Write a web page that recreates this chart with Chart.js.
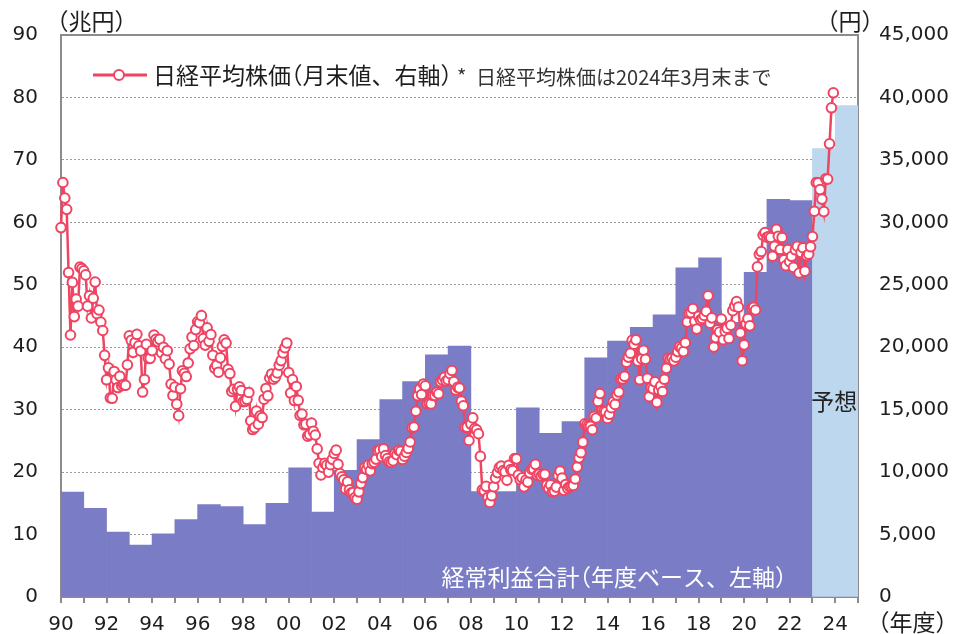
<!DOCTYPE html>
<html>
<head>
<meta charset="utf-8">
<script src="https://cdn.jsdelivr.net/npm/chart.js@4.4.0/dist/chart.umd.min.js"></script>
<style>
  html, body { margin: 0; padding: 0; background: #fff; }
  #wrap { width: 953px; height: 634px; position: relative; }
</style>
</head>
<body>
<div id="wrap"><canvas id="chart" width="953" height="634"></canvas></div>
<script>
// 年度（x軸）
const fiscalYears = [1990, 1991, 1992, 1993, 1994, 1995, 1996, 1997, 1998, 1999,
                     2000, 2001, 2002, 2003, 2004, 2005, 2006, 2007, 2008, 2009,
                     2010, 2011, 2012, 2013, 2014, 2015, 2016, 2017, 2018, 2019,
                     2020, 2021, 2022, 2023, 2024];
// 経常利益合計（兆円、年度ベース）
const profitTrillion = [16.8, 14.2, 10.4, 8.3, 10.1, 12.4, 14.8, 14.5, 11.6, 15.0,
                        20.7, 13.6, 20.3, 25.2, 31.6, 34.5, 38.8, 40.2, 16.9, 16.9,
                        30.3, 26.2, 28.1, 38.3, 41.0, 43.2, 45.2, 52.7, 54.3, 44.0,
                        52.0, 63.7, 63.5, 71.8, 78.7];
const forecastYears = [2023, 2024];

// 日経平均株価（月末値、円）1990年4月から
const nikkeiStartYear = 1990;
const nikkei1990s = [
  29580, 33190, 31940, 31040, 25980, 20980, 25190, 22450, 23850, 23290, 26410, 26290,
  26110, 25790, 23290, 24120, 22340, 23920, 25220, 22690, 22980, 22020, 21340, 19350,
  17390, 18350, 15950, 15910, 18060, 17400, 16770, 17680, 16920, 17020, 16950, 18590,
  20920, 20550, 19590, 20380, 21030, 20110, 19700, 16410, 17420, 20230, 19110, 19110,
  19730, 20970, 20640, 20450, 20630, 19560, 19990, 19080, 19720, 18650, 17050, 16140,
  16810, 15440, 14520, 16680, 18120, 17910, 17650, 18740, 19870, 20810, 20130, 21410,
  22040, 21960, 22530, 20690, 20170, 21560, 20470, 21020, 19360, 18330, 18560, 18000,
  19150, 20070, 20600, 20330, 18230, 17890, 16460, 16640, 15260, 16630, 16830, 16530,
  15640, 15670, 15830, 16380, 14110, 13410, 13560, 14880, 13840, 14500, 14370, 15840,
  16700, 16110, 17530, 17860, 17440, 17600, 17940, 18560, 18930, 19540, 19960, 20340
];
const nikkei2000s = [
  17970, 16330, 17410, 15730, 16860, 15750, 14540, 14650, 13790, 13840, 12880, 13000,
  13930, 13260, 12970, 11860, 10710, 9770, 10370, 10700, 10540, 10000, 10590, 11020,
  11490, 11760, 10620, 9880, 9620, 9380, 8640, 9220, 8580, 8340, 8360, 7970,
  7830, 8420, 9080, 9560, 10340, 10220, 10560, 10100, 10680, 10780, 11040, 11720,
  11760, 11240, 11860, 11330, 11080, 10820, 10770, 10900, 11490, 11390, 11740, 11670,
  11010, 11280, 11580, 11900, 12410, 13570, 13610, 14870, 16110, 16650, 16210, 17060,
  16910, 15470, 15510, 15460, 16140, 16130, 16400, 16270, 17230, 17380, 17600, 17290,
  17400, 17880, 18140, 17250, 16570, 16790, 16740, 15680, 15310, 13590, 13600, 12530,
  13850, 14340, 13480, 13380, 13070, 11260, 8580, 8510, 8860, 7990, 7570, 8110,
  8830, 9520, 9960, 10360, 10490, 10130, 10030, 9350, 10550, 10200, 10130, 11090
];
const nikkei2010s = [
  11060, 9770, 9380, 9540, 8820, 9370, 9200, 9940, 10230, 10240, 10620, 9760,
  9850, 9690, 9820, 9830, 8960, 8700, 8990, 8430, 8460, 8800, 9720, 10080,
  9520, 8540, 9010, 8700, 8840, 8870, 8930, 9450, 10400, 11140, 11560, 12400,
  13860, 13770, 13680, 13670, 13390, 14460, 14330, 15660, 16290, 14910, 14840, 14830,
  14300, 14630, 15160, 15620, 15420, 16170, 16410, 17460, 17450, 17670, 18800, 19210,
  19520, 20560, 20240, 20590, 18890, 17390, 19080, 19750, 19030, 17520, 16030, 16760,
  16670, 17230, 15580, 16570, 16890, 16450, 17430, 18310, 19110, 19040, 19120, 18910,
  19200, 19650, 20030, 19930, 19650, 20360, 22010, 22720, 22760, 23100, 22070, 21450,
  22470, 22200, 22300, 22550, 22870, 24120, 21920, 22350, 20010, 20770, 21390, 21210,
  22260, 20600, 21280, 21520, 20700, 21760, 22930, 23290, 23660, 23210, 21140, 18920
];
const nikkei2020s = [
  20190, 21880, 22290, 21710, 23140, 23190, 22980, 26430, 27440, 27660, 28970, 29180,
  28810, 28860, 28790, 27280, 28090, 29450, 28890, 27820, 28790, 27000, 26530, 27820,
  26850, 27280, 26390, 27800, 28090, 25940, 27590, 27970, 26090, 27330, 27450, 28040,
  28860, 30890, 33190, 33170, 32620, 31860, 30860, 33490, 33460, 36290, 39170, 40370
];

const leftMax = 90, leftStep = 10;
const rightMax = 45000, rightStep = 5000;

const BAR = '#7A7DC6';
const BAR_FC = '#BDD7EE';
const LINE = '#EF4462';
const AXIS = '#8c8c8c';
const TEXT = '#1e1e1e';
const NUM_FONT = { family: 'DejaVu Sans', size: 20 };
const JP = '"Noto Sans CJK JP", "Noto Sans", sans-serif';

const nikkeiAll = [].concat(nikkei1990s, nikkei2000s, nikkei2010s, nikkei2020s);
const nikkeiPoints = nikkeiAll.map((v, i) => ({ x: nikkeiStartYear + i / 12, y: v }));
const barPoints = fiscalYears.map((y, i) => ({ x: y + 0.5, y: profitTrillion[i] }));
const barColors = fiscalYears.map(y => forecastYears.includes(y) ? BAR_FC : BAR);

// 全角カッコを詰めて描く
function drawJP(ctx, text, x, y, align) {
  const parts = [...text].map(ch => {
    let w = ctx.measureText(ch).width, dx = 0;
    if (ch === '（') { dx = -w / 2; w = w / 2; }
    else if (ch === '）') { w = w / 2; }
    return { ch, w, dx };
  });
  const total = parts.reduce((s, p) => s + p.w, 0);
  let cx = align === 'right' ? x - total : align === 'center' ? x - total / 2 : x;
  ctx.textAlign = 'left';
  parts.forEach(p => { ctx.fillText(p.ch, cx + p.dx, y); cx += p.w; });
}

const decor = {
  id: 'decor',
  beforeDatasetsDraw(chart) {
    const { ctx, chartArea: a } = chart;
    ctx.save();
    ctx.strokeStyle = AXIS;
    ctx.lineWidth = 2;
    ctx.beginPath();
    ctx.moveTo(a.left - 1, a.top);
    ctx.lineTo(a.right + 1, a.top);
    ctx.stroke();
    ctx.restore();
  },
  afterDraw(chart) {
    const { ctx, chartArea: a, scales } = chart;
    const x = scales.x;
    ctx.save();
    ctx.textBaseline = 'middle';

    // 凡例
    const ly = a.top + 40;
    ctx.strokeStyle = LINE;
    ctx.lineWidth = 3;
    ctx.beginPath();
    ctx.moveTo(a.left + 32, ly);
    ctx.lineTo(a.left + 86, ly);
    ctx.stroke();
    ctx.beginPath();
    ctx.arc(a.left + 58, ly, 5, 0, Math.PI * 2);
    ctx.fillStyle = '#fff';
    ctx.fill();
    ctx.lineWidth = 2;
    ctx.stroke();

    ctx.fillStyle = TEXT;
    ctx.font = '23px ' + JP;
    drawJP(ctx, '日経平均株価（月末値、右軸）', a.left + 92, ly, 'left');
    ctx.font = '20px ' + JP;
    ctx.fillStyle = '#333';
    ctx.fillText('*', a.left + 396, ly + 1);
    drawJP(ctx, '日経平均株価は2024年3月末まで', a.left + 415, ly + 2, 'left');

    // 棒の中の文字
    ctx.font = '23px ' + JP;
    ctx.fillStyle = '#fff';
    drawJP(ctx, '経常利益合計（年度ベース、左軸）', x.getPixelForValue(2023) - 26, 577, 'right');
    ctx.fillStyle = '#222';
    drawJP(ctx, '予想', x.getPixelForValue(2024) - 1, 401, 'center');

    // 単位
    ctx.font = '23px ' + JP;
    ctx.fillStyle = TEXT;
    drawJP(ctx, '（兆円）', 57, 21, 'left');
    drawJP(ctx, '（円）', 827, 21, 'left');
    drawJP(ctx, '（年度）', 878, 622, 'left');
    ctx.restore();
  }
};

new Chart(document.getElementById('chart'), {
  type: 'bar',
  data: {
    datasets: [
      {
        type: 'line',
        label: '日経平均株価（月末値、右軸）',
        data: nikkeiPoints,
        yAxisID: 'y2',
        borderColor: LINE,
        borderWidth: 2.5,
        pointRadius: 4.8,
        pointBorderWidth: 2,
        pointBackgroundColor: '#fff',
        pointBorderColor: LINE,
        tension: 0,
        clip: false,
        order: 0
      },
      {
        type: 'bar',
        label: '経常利益合計（年度ベース、左軸）',
        data: barPoints,
        yAxisID: 'y',
        backgroundColor: barColors,
        borderWidth: 0,
        barPercentage: 1,
        categoryPercentage: 1,
        order: 1
      }
    ]
  },
  options: {
    responsive: false,
    animation: false,
    layout: { padding: { top: 33, left: 0, right: 0, bottom: 0 } },
    plugins: { legend: { display: false }, tooltip: { enabled: false } },
    scales: {
      x: {
        type: 'linear',
        min: 1990,
        max: 2025,
        offset: false,
        grid: { offset: false, drawOnChartArea: false, drawTicks: true, tickLength: 6, color: AXIS, lineWidth: 2 },
        border: { display: true, color: AXIS, width: 2 },
        ticks: {
          stepSize: 1,
          autoSkip: false,
          maxRotation: 0,
          padding: 10,
          color: TEXT,
          font: NUM_FONT,
          callback: v => (v % 2 === 0 && v < 2025) ? String(v % 100).padStart(2, '0') : ''
        },
        afterFit: s => { s.height = 37; }
      },
      y: {
        position: 'left',
        min: 0,
        max: leftMax,
        grid: {
          drawTicks: false,
          color: c => (c.tick.value === 0 || c.tick.value === leftMax) ? 'rgba(0,0,0,0)' : '#9a9a9a',
          lineWidth: 1
        },
        border: { display: true, color: AXIS, width: 2, dash: [2, 2] },
        ticks: { stepSize: leftStep, padding: 23, color: TEXT, font: NUM_FONT },
        afterFit: s => { s.width = 61; }
      },
      y2: {
        position: 'right',
        min: 0,
        max: rightMax,
        grid: { drawOnChartArea: false, drawTicks: false },
        border: { display: true, color: AXIS, width: 2 },
        ticks: {
          stepSize: rightStep,
          padding: 21,
          color: TEXT,
          font: NUM_FONT,
          callback: v => v.toLocaleString('en-US')
        },
        afterFit: s => { s.width = 95; }
      }
    }
  },
  plugins: [decor]
});
</script>
</body>
</html>
